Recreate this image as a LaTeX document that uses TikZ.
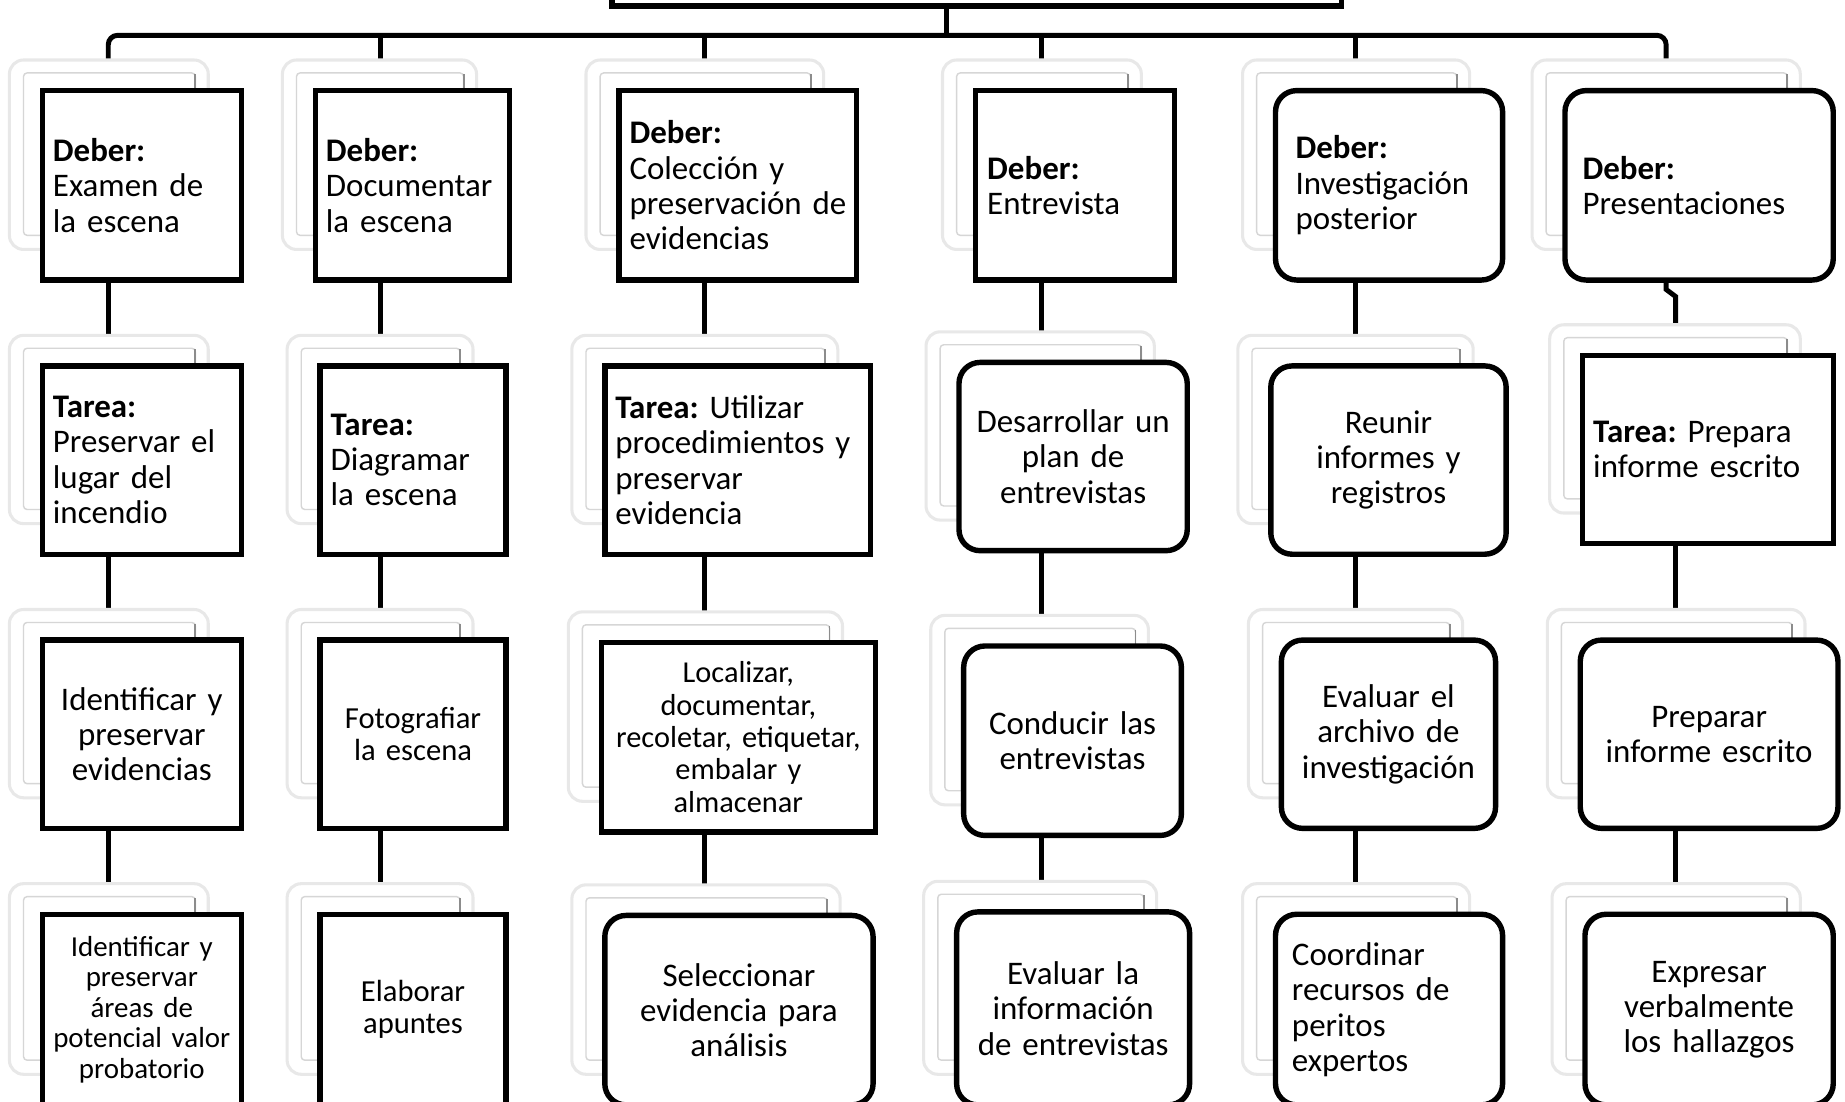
\documentclass[tikz,border=0pt]{standalone}
\usepackage{fontspec}
\setmainfont{Carlito}
\usetikzlibrary{calc}
\pgfdeclarelayer{bg}
\pgfdeclarelayer{lines}
\pgfsetlayers{bg,lines,main}
\tikzset{
  boxbase/.style={draw=black, line width=2.3pt, fill=white, inner sep=0pt, font=\fontsize{14pt}{15pt}\selectfont},
  sq/.style={boxbase, rectangle},
  rd/.style={boxbase, rectangle, rounded corners=9pt},
  lt/.style={align=left},
  ct/.style={align=center},
  fsmall/.style={font=\fontsize{13pt}{13.6pt}\selectfont},
  floc/.style={font=\fontsize{12.9pt}{13.75pt}\selectfont},
  farea/.style={font=\fontsize{12.3pt}{13pt}\selectfont},
  ghostouter/.style={draw=black!9, line width=1.3pt, rounded corners=6pt, fill=white},
  ghostinner/.style={draw=black!16, line width=0.6pt, rounded corners=1.5pt},
  ghostedge/.style={draw=black!45, line width=0.8pt},
  conn/.style={draw=black, line width=2.1pt},
}
% #1 name, #2 styles, #3 margin (pt), #4 x1, #5 y1, #6 x2, #7 y2, #8 text
\newcommand\ghbox[8]{%
  \draw[ghostouter] ({#4-28},{#5-26}) rectangle ({#6-28},{#7-26});
  \draw[ghostinner] ({#4-16},{#5-15}) rectangle ({#6-39},{#7-38});
  \draw[ghostedge] ({#6-39},{#5-14}) -- ({#6-39},{#7-38});
  \pgfmathsetmacro\ghw{(#6-#4)*0.5}%
  \pgfmathsetmacro\ghh{(#7-#5)*0.5}%
  \pgfmathsetmacro\ghtw{(#6-#4)*0.5-2*#3}%
  \node[#2, minimum width=\ghw pt, minimum height=\ghh pt, text width=\ghtw pt] (#1) at ({(#4+#6)/2},{(#5+#7)/2}) {#8};
}
\begin{document}
\begin{tikzpicture}[x=0.5pt,y=-0.5pt]
\path[use as bounding box] (0,0) rectangle (1568,936);
\begin{pgfonlayer}{bg}
\fill[white] (0,0) rectangle (1568,936);
\end{pgfonlayer}
\clip (0,0) rectangle (1568,936);

% top (cut-off) box
\node[sq, minimum width=310pt, minimum height=60pt] (top) at (830,-55) {};

% column 1
\ghbox{c1r1}{sq,lt}{4.5}{36}{77}{205}{238}{\textbf{Deber:}\\Examen~de\\la~escena}
\ghbox{c1r2}{sq,lt}{4.5}{36}{311}{205}{471}{\textbf{Tarea:}\\Preservar~el\\lugar~del\\incendio}
\ghbox{c1r3}{sq,ct}{2}{36}{544}{205}{704}{Identificar~y\\preservar\\evidencias}
\ghbox{c1r4}{sq,ct,farea}{2}{36}{777}{205}{939}{Identificar~y\\preservar\\áreas~de\\potencial~valor\\probatorio}
% column 2
\ghbox{c2r1}{sq,lt}{4.5}{268}{77}{433}{238}{\textbf{Deber:}\\Documentar\\la~escena}
\ghbox{c2r2}{sq,lt}{4.5}{272}{311}{430}{471}{\textbf{Tarea:}\\Diagramar\\la~escena}
\ghbox{c2r3}{sq,ct,fsmall}{2}{272}{544}{430}{704}{Fotografiar\\la~escena}
\ghbox{c2r4}{sq,ct,fsmall}{2}{272}{777}{430}{939}{Elaborar\\apuntes}
% column 3
\ghbox{c3r1}{sq,lt}{4.5}{526}{77}{728}{238}{\textbf{Deber:}\\Colección~y\\preservación~de\\evidencias}
\ghbox{c3r2}{sq,lt}{4.5}{514}{311}{740}{471}{\textbf{Tarea:}~Utilizar\\procedimientos~y\\preservar\\evidencia}
\ghbox{c3r3}{sq,ct,floc}{2}{511}{546}{744}{707}{Localizar,\\documentar,\\recoletar,~etiquetar,\\embalar~y\\almacenar}
\ghbox{c3r4}{rd,ct}{2}{514}{778}{742}{939}{Seleccionar\\evidencia~para\\análisis}
% column 4
\ghbox{c4r1}{sq,lt}{5}{829}{77}{998}{238}{\textbf{Deber:}\\Entrevista}
\ghbox{c4r2}{rd,ct}{2}{815}{308}{1009}{468}{Desarrollar~un\\plan~de\\entrevistas}
\ghbox{c4r3}{rd,ct}{2}{819}{549}{1004}{710}{Conducir~las\\entrevistas}
\ghbox{c4r4}{rd,ct}{2}{813}{775}{1011}{939}{Evaluar~la\\información\\de~entrevistas}
% column 5
\ghbox{c5r1}{rd,lt}{8.5}{1084}{77}{1277}{238}{\textbf{Deber:}\\Investigación\\posterior}
\ghbox{c5r2}{rd,ct}{2}{1080}{311}{1280}{471}{Reunir\\informes~y\\registros}
\ghbox{c5r3}{rd,ct}{2}{1089}{544}{1271}{704}{Evaluar~el\\archivo~de\\investigación}
\ghbox{c5r4}{rd,lt}{7}{1084}{777}{1277}{939}{Coordinar\\recursos~de\\peritos\\expertos}
% column 6
\ghbox{c6r1}{rd,lt}{7.5}{1330}{77}{1558}{238}{\textbf{Deber:}\\Presentaciones}
\ghbox{c6r2}{sq,lt}{4.5}{1345}{302}{1558}{462}{\textbf{Tarea:}~Prepara\\informe~escrito}
\ghbox{c6r3}{rd,ct}{2}{1343}{544}{1562}{704}{Preparar\\informe~escrito}
\ghbox{c6r4}{rd,ct}{2}{1347}{777}{1558}{939}{Expresar\\verbalmente\\los~hallazgos}

% connector coordinates
\coordinate (root) at (804,5);
\coordinate (bus) at (804,30);
\coordinate (col1) at (92,30);
\coordinate (col2) at (323,30);
\coordinate (col3) at (599,30);
\coordinate (col4) at (885,30);
\coordinate (col5) at (1152,30);
\coordinate (col6) at (1416,30);
\coordinate (col6b) at (1424,300);
\coordinate (j6a) at (1416,246);
\coordinate (j6b) at (1424,252);

\begin{pgfonlayer}{lines}
\draw[conn, rounded corners=4pt] (c1r1.north -| col1) |- (col6) -- (c6r1.north -| col6);
\draw[conn] (top.south -| root) -- (bus);
\draw[conn] (col2) -- (c2r1.north -| col2);
\draw[conn] (col3) -- (c3r1.north -| col3);
\draw[conn] (col4) -- (c4r1.north -| col4);
\draw[conn] (col5) -- (c5r1.north -| col5);
\foreach \k in {1,...,5}{
  \draw[conn] (c\k r1.south -| col\k) -- (c\k r2.north -| col\k);
  \draw[conn] (c\k r2.south -| col\k) -- (c\k r3.north -| col\k);
  \draw[conn] (c\k r3.south -| col\k) -- (c\k r4.north -| col\k);
}
\draw[conn] (c6r1.south -| col6) -- (j6a) -- (j6b) -- (c6r2.north -| col6b);
\draw[conn] (c6r2.south -| col6b) -- (c6r3.north -| col6b);
\draw[conn] (c6r3.south -| col6b) -- (c6r4.north -| col6b);
\end{pgfonlayer}
\end{tikzpicture}
\end{document}
